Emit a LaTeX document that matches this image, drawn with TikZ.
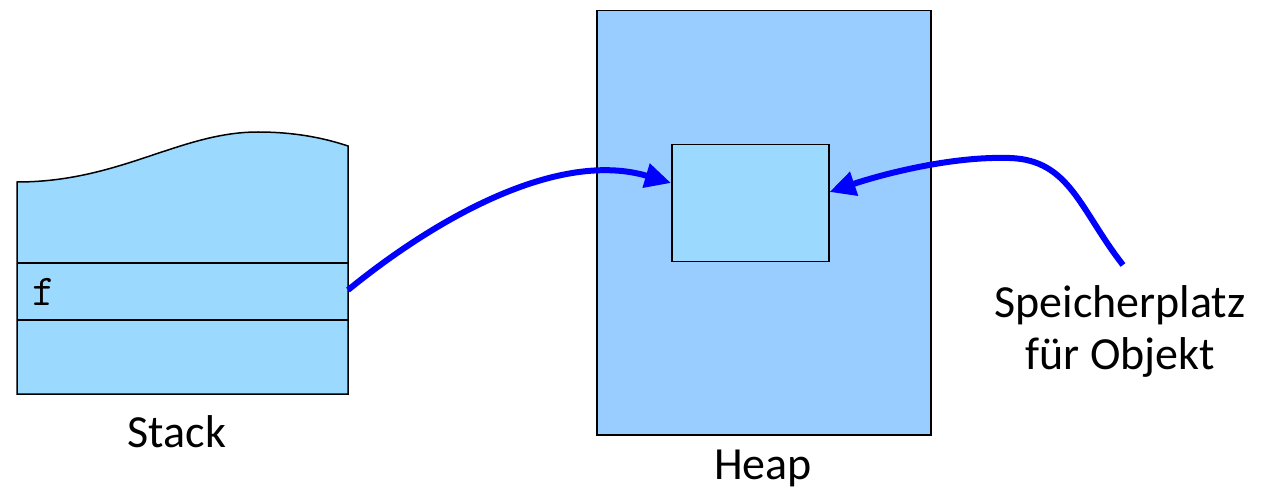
\documentclass[tikz,border=0pt]{standalone}
\usepackage{fontspec}
\setmainfont{Carlito}
\usetikzlibrary{arrows.meta}
\definecolor{stackblue}{RGB}{155,217,255}
\definecolor{heapblue}{RGB}{153,204,255}
\definecolor{ptrblue}{RGB}{0,0,255}
\tikzset{
  frame/.style={draw=black, line width=1.5pt},
  pointer/.style={draw=ptrblue, line width=6pt, -{Triangle[length=26pt,width=24pt]}},
  lbl/.style={font=\fontsize{46}{52}\selectfont, align=center, inner sep=0pt},
}
\begin{document}
\begin{tikzpicture}[x=1pt,y=-1pt]
\useasboundingbox (0,0) rectangle (1267,489);
% Stack
\filldraw[frame, fill=stackblue] (17,394) -- (17,182)
  .. controls (120,182) and (180,132) .. (258,132)
  .. controls (300,132) and (330,140) .. (348,146) -- (348,394) -- cycle;
\draw[frame] (17,263) -- (348,263);
\draw[frame] (17,320) -- (348,320);
\node[anchor=west, inner sep=0pt, font=\ttfamily\fontsize{44}{50}\selectfont] (f) at (32,292) {f};
\coordinate (fslot) at (348,290);
\node[lbl] (stacklbl) at (177,432) {Stack};
% Heap
\node[frame, fill=heapblue, minimum width=334pt, minimum height=424pt, inner sep=0pt, anchor=north west] (heap) at (596,10) {};
\node[frame, fill=stackblue, minimum width=157pt, minimum height=117pt, inner sep=0pt, anchor=north west] (obj) at (671,144) {};
\node[lbl] (heaplbl) at (763,468) {Heap};
% Label
\node[lbl] (spl) at (1120,331) {Speicherplatz\\für Objekt};
\coordinate (splend) at (1123,265);
% Pointers
\draw[pointer] (fslot) .. controls (440,215) and (560,150) .. (obj.west |- 0,183);
\draw[pointer] (splend) .. controls (1080,210) and (1070,160) .. (1010,158)
  .. controls (950,156) and (880,175) .. (obj.east |- 0,192);
\end{tikzpicture}
\end{document}
